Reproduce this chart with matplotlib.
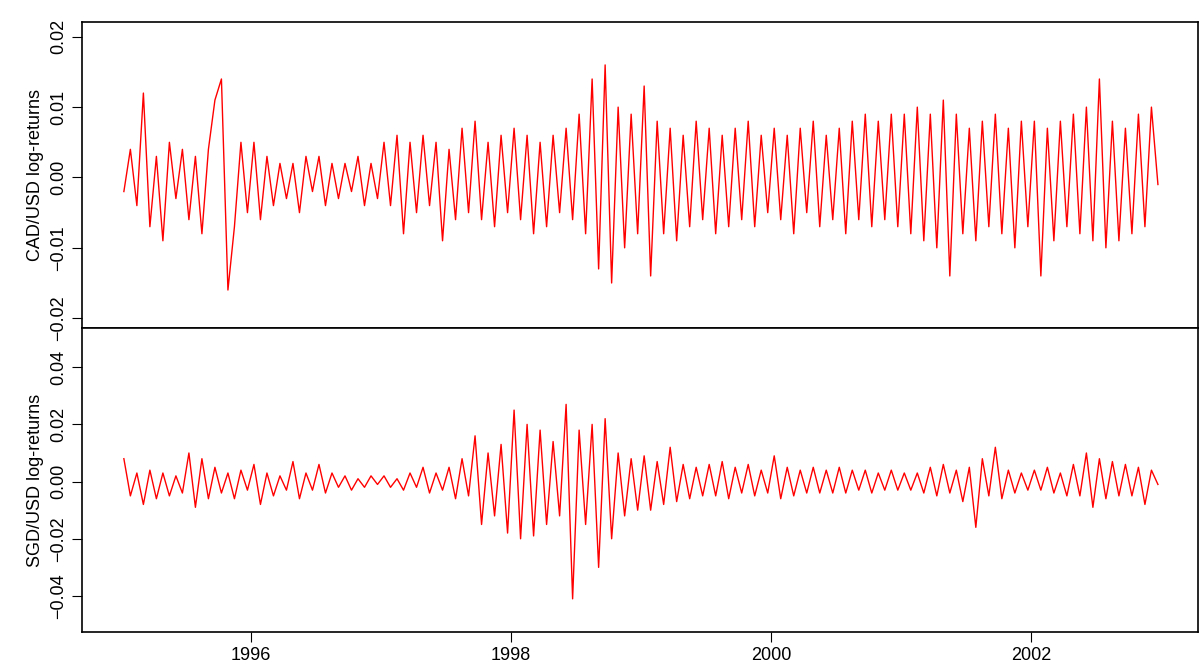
import numpy as np
import matplotlib
matplotlib.use("Agg")
import matplotlib.pyplot as plt

plt.rcParams['font.family'] = ['Liberation Sans', 'DejaVu Sans']

# log-returns in units of 0.001, 20 samples per year, 1995-2002
cad = [-2,4,-4,12,-7,3,-9,5,-3,4,-6,3,-8,4,11,14,-16,-7,5,-5,
       5,-6,3,-4,2,-3,2,-5,3,-2,3,-4,2,-3,2,-2,3,-4,2,-3,
       5,-4,6,-8,5,-5,6,-4,5,-9,4,-6,7,-5,8,-6,5,-7,6,-5,
       7,-6,6,-8,5,-7,6,-5,7,-6,9,-8,14,-13,16,-15,10,-10,9,-8,
       13,-14,8,-8,7,-9,6,-7,8,-6,7,-8,6,-7,7,-6,8,-7,6,-5,
       7,-6,6,-8,7,-5,8,-7,6,-6,7,-8,8,-6,9,-7,8,-6,9,-7,
       9,-8,10,-9,9,-10,11,-14,9,-8,7,-9,8,-7,9,-8,7,-10,8,-7,
       8,-14,7,-9,8,-7,9,-8,10,-9,14,-10,8,-9,7,-8,9,-7,10,-1]
sgd = [8,-5,3,-8,4,-6,3,-5,2,-4,10,-9,8,-6,5,-4,3,-6,4,-3,
       6,-8,3,-5,2,-3,7,-6,3,-3,6,-4,3,-2,2,-3,1,-2,2,-1,
       2,-2,1,-3,3,-2,5,-4,3,-3,5,-6,8,-5,16,-15,10,-12,13,-18,
       25,-20,20,-19,18,-15,14,-12,27,-41,18,-15,20,-30,22,-20,10,-12,8,-10,
       9,-10,7,-8,12,-7,6,-6,5,-5,6,-5,7,-6,5,-4,6,-5,4,-4,
       9,-6,5,-5,4,-4,5,-4,4,-4,5,-4,4,-3,4,-4,3,-3,4,-3,
       3,-3,3,-4,5,-5,6,-4,4,-7,5,-16,8,-5,12,-6,4,-4,3,-3,
       4,-3,5,-4,3,-5,6,-5,10,-9,8,-6,7,-5,6,-5,5,-8,4,-1]
start_year, per_year = 1995, 20
t = start_year + np.arange(len(cad)) / per_year + 0.5 / per_year
cad_v = np.array(cad) / 1000
sgd_v = np.array(sgd) / 1000

fig = plt.figure(figsize=(12, 6.69), dpi=100)
ax1 = fig.add_axes([0.068, 0.5097, 0.93, 0.4574])
ax2 = fig.add_axes([0.068, 0.0553, 0.93, 0.4544], sharex=ax1)

ax1.plot(t, cad_v, color='red', lw=1)
ax2.plot(t, sgd_v, color='red', lw=1)

ax1.set_xlim(1994.7, 2003.28)
ax1.set_ylim(-0.0214, 0.0221)
ax2.set_ylim(-0.0526, 0.0537)
ax1.set_yticks([-0.02, -0.01, 0.0, 0.01, 0.02])
ax1.set_yticklabels(['\u22120.02', '\u22120.01', '0.00', '0.01', '0.02'])
ax2.set_yticks([-0.04, -0.02, 0.0, 0.02, 0.04])
ax2.set_yticklabels(['\u22120.04', '\u22120.02', '0.00', '0.02', '0.04'])
ax2.set_xticks([1996, 1998, 2000, 2002])
ax2.set_xticklabels(['1996', '1998', '2000', '2002'])
ax1.tick_params(axis='x', bottom=False, labelbottom=False)

for ax in (ax1, ax2):
    for lab in ax.get_yticklabels():
        lab.set_rotation(90)
        lab.set_va('center')
    ax.tick_params(labelsize=13, length=7)
    for s in ax.spines.values():
        s.set_linewidth(1.2)
ax1.set_ylabel('CAD/USD log-returns', fontsize=13)
ax2.set_ylabel('SGD/USD log-returns', fontsize=13)

fig.savefig('out.png', dpi=100)
